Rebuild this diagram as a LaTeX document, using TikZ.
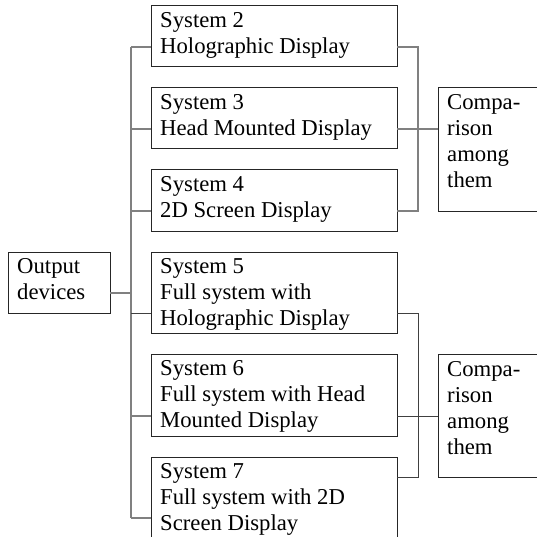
\documentclass[tikz,border=0pt]{standalone}
\usepackage{fontspec}
\setmainfont{Liberation Serif}
\usetikzlibrary{calc}
\begin{document}
\begin{tikzpicture}[x=1pt,y=-1pt,
  box/.style={draw=black!85, line width=1pt, inner sep=0pt, outer sep=0pt, anchor=north west},
  lbl/.style={anchor=base west, inner sep=0pt, align=left, font=\fontsize{22.7}{26}\selectfont},
  link/.style={draw=black!50, line width=1.2pt},
  darklink/.style={draw=black!75, line width=1pt},
]
\useasboundingbox (0,0) rectangle (536,537);

% boxes
\node[box, minimum width=102pt, minimum height=61pt] (out) at (8,252) {};
\node[box, minimum width=246pt, minimum height=61pt] (s2) at (151,6) {};
\node[box, minimum width=246pt, minimum height=61pt] (s3) at (151,88) {};
\node[box, minimum width=246pt, minimum height=61pt] (s4) at (151,170) {};
\node[box, minimum width=246pt, minimum height=81pt] (s5) at (151,252) {};
\node[box, minimum width=246pt, minimum height=82pt] (s6) at (151,354) {};
\node[box, minimum width=246pt, minimum height=81pt] (s7) at (151,457) {};
\node[box, minimum width=102pt, minimum height=123pt] (c1) at (438,88) {};
\node[box, minimum width=102pt, minimum height=123pt] (c2) at (438,354) {};

% texts (the base anchor sits on the last line)
\node[lbl] (outt) at ($(out.north west)+(9,47)$) {Output\\devices};
\node[lbl] (s2t) at ($(s2.north west)+(9,48)$) {System 2\\Holographic Display};
\node[lbl] (s3t) at ($(s3.north west)+(9,48)$) {System 3\\Head Mounted Display};
\node[lbl] (s4t) at ($(s4.north west)+(9,48)$) {System 4\\2D Screen Display};
\node[lbl] (s5t) at ($(s5.north west)+(9,73)$) {System 5\\Full system with\\Holographic Display};
\node[lbl] (s6t) at ($(s6.north west)+(9,73)$) {System 6\\Full system with Head\\Mounted Display};
\node[lbl] (s7t) at ($(s7.north west)+(9,73)$) {System 7\\Full system with 2D\\Screen Display};
\node[lbl] (c1t) at ($(c1.north west)+(9,100)$) {Compa-\\rison\\among\\them};
\node[lbl] (c2t) at ($(c2.north west)+(9,100)$) {Compa-\\rison\\among\\them};

% attachment points, 20pt above each box's lower edge
\foreach \n in {out,s2,s3,s4,s5,s6,s7}{
  \coordinate (\n l) at ($(\n.south west)+(0,-20)$);
  \coordinate (\n r) at ($(\n.south east)+(0,-20)$);
}
% the last box joins its group near its top
\coordinate (s7r) at ($(s7.north east)+(0,20)$);
\coordinate (trunk) at (131,0);
\coordinate (rbus) at (418,0);

% tree on the left
\draw[link] (s2l -| trunk) -- (s7l -| trunk);
\draw[link] (outr) -- (outr -| trunk);
\foreach \n in {s2,s3,s4,s6,s7}{
  \draw[link] (\n l -| trunk) -- (\n l);
}
\draw[darklink] (s5l -| trunk) -- (s5l);

% first comparison group
\draw[link] (s2r) -- (s2r -| rbus) -- (s4r -| rbus) -- (s4r);
\draw[link] (s3r) -- (s3r -| c1.west);

% second comparison group
\draw[darklink] (s5r) -- (s5r -| rbus) -- (s7r -| rbus) -- (s7r);
\draw[darklink] (s6r) -- (s6r -| c2.west);
\end{tikzpicture}
\end{document}
